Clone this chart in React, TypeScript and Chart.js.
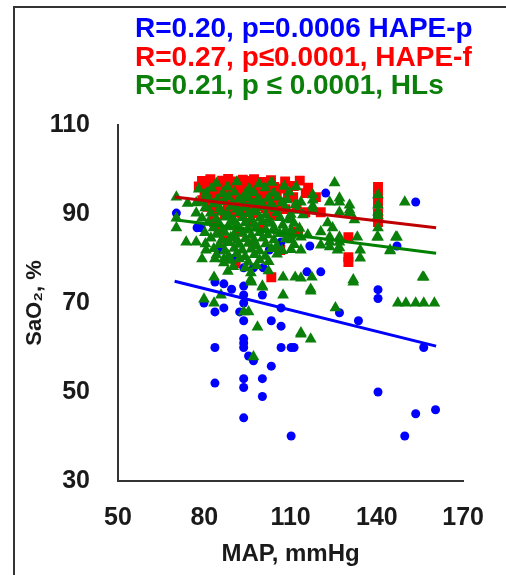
import React, { useEffect, useRef } from "react";
import { Chart, registerables } from "chart.js";

Chart.register(...registerables);

// ---- Data ----
const xTicks = [50, 80, 110, 140, 170];
const yTicks = [30, 50, 70, 90, 110];

const headerLines = [
  "R=0.20, p=0.0006 HAPE-p",
  "R=0.27, p\u22640.0001, HAPE-f",
  "R=0.21, p \u2264 0.0001, HLs",
];

// HAPE-p (blue circles): [MAP, SaO2]
const hapeP: number[][] = [
  [70.3, 90.2], [77.5, 86.9], [78.9, 86.9], [85.8, 81.9], [90.6, 80.1], [93.7, 77.9], [97.1, 77.9], [100.5, 77.9],
  [102.6, 81.9], [106.7, 83.7], [122.2, 94.7], [153.5, 92.7], [116.7, 82.8], [147, 82.8], [115.7, 77], [120.5, 77],
  [140.4, 73], [140.4, 71], [83.7, 74.7], [86.8, 74.3], [89.5, 73.1], [93.7, 73.8], [93.7, 71.8], [100.2, 71.8],
  [79.9, 70], [83.7, 68], [86.8, 68.9], [93.7, 70], [92.3, 68], [93.7, 66], [103.3, 66], [106.7, 64.8],
  [106.7, 68.9], [93.7, 62], [93.7, 61], [93.7, 60], [83.7, 60], [106.7, 60], [110.2, 60], [111.2, 60],
  [95.4, 58.1], [97.1, 57], [103.3, 55.8], [83.7, 52], [93.7, 53], [93.7, 51], [100.2, 53], [100.2, 49],
  [93.7, 44.2], [110.2, 40.1], [127, 67.8], [133.6, 66], [156.3, 60], [140.4, 50], [160.4, 46], [153.5, 45.1],
  [149.7, 40.1],
];

// HAPE-f (red squares)
const hapeF: number[][] = [
  [79.2, 97.4], [82.1, 97.8], [86.2, 97.5], [88.3, 97.9], [91.1, 97.3], [93.4, 97.7], [95.2, 97.4], [97.3, 97.8],
  [100.1, 97.2], [103.2, 97.6], [108.1, 97.3], [113.2, 97.5],
  [78.1, 96.2], [81.2, 95.9], [84.3, 96.3], [87.1, 95.8], [89.2, 96.1], [92.3, 95.7], [94.1, 96.4], [96.2, 95.9],
  [98.3, 96.2], [101.1, 95.8], [104.3, 96.1], [107.2, 95.7], [111.1, 96.3], [116.1, 95.9],
  [80.1, 94.6], [83.2, 94.3], [85.3, 94.8], [88.1, 94.4], [90.2, 94.7], [93.1, 94.2], [95.4, 94.6], [97.2, 94.3],
  [99.3, 94.7], [102.1, 94.4], [105.2, 94.2], [109.1, 94.6], [115.3, 94.7], [118.8, 93.8],
  [79.3, 93.1], [82.2, 92.8], [86.1, 93.3], [89.3, 92.9], [91.2, 93.2], [94.3, 92.7], [96.1, 93.1], [100.2, 92.8],
  [103.3, 93.2], [106.1, 92.6], [110.9, 93.8],
  [81.1, 91.6], [84.2, 91.3], [88.1, 91.7], [92.3, 91.2], [95.2, 91.5], [98.1, 91.8], [101.3, 91.3], [105.1, 91.6],
  [108.2, 91.1], [112.1, 91.4],
  [83.2, 90.1], [87.1, 89.8], [90.3, 90.3], [93.2, 89.9], [97.1, 90.2], [104.1, 89.7], [115.1, 90.4], [120.5, 90.4],
  [83.4, 88.2], [85, 86], [92, 86], [96, 88], [100, 87], [112.6, 86], [90.9, 79], [103.3, 75.8], [106.4, 81.9],
  [97, 83.2], [88, 84.1],
  [140.4, 96.1], [140.4, 94.3], [140.4, 92.5], [140.4, 90.2], [140.4, 88.2], [130.1, 84.8], [130.1, 80.3], [130.1, 79.2],
];

// HLs (green triangles)
const hls: number[][] = [
  [70.3, 93.8], [70.3, 89.1], [70.3, 86.9], [73.7, 83.7], [77.2, 83.7], [80.6, 81.9], [79.2, 79.9], [83.7, 79.9],
  [86.8, 79.9], [83.4, 75.8], [86.8, 79], [96.1, 75.2], [100.2, 73.6], [107.4, 75.8], [113.6, 75.6], [77.2, 90.2],
  [77.2, 92.5], [80.6, 94.7], [78.1, 95.6], [74.2, 92.4],
  [96.4, 74.7], [100.2, 73.8], [107.4, 71.8], [79.9, 70.9], [85.8, 71.8], [83.4, 70], [93.7, 68], [95.4, 68],
  [98.5, 64.6], [113.6, 63], [97.1, 57.9],
  [117, 72.7], [131.8, 74.7], [125.6, 68.9], [113.6, 63.3], [117, 61.9], [156.3, 75.8], [147.3, 70], [150.1, 70],
  [153.5, 70], [156.3, 70], [160, 70],
  [149.7, 92.7], [146.6, 84.8], [144.6, 81.7], [140.4, 94.3], [140.4, 92], [140.4, 90.4], [140.4, 89.6], [140.4, 86.9],
  [140.4, 84.8], [125.3, 97], [111.9, 96.1],
  [117.7, 94.3], [117.7, 93.1], [117.7, 91.8], [117.7, 90.9], [113.6, 92.7], [123.6, 92.7], [127, 93.6], [127, 92.7],
  [130.5, 92], [130.5, 90.9], [130.5, 90.2], [127, 90.4], [114.3, 89.8], [132.2, 88.7], [110.2, 88.7], [110.2, 86.4],
  [110.2, 84.2], [110.2, 82], [122.9, 88], [124.6, 86.9], [120.5, 86], [116, 85.3], [113.6, 84.8], [123.6, 84.8],
  [123.6, 83.7], [123.6, 82.6], [127, 84.8], [127, 83.7], [127, 82.4], [133.2, 84.8], [140.1, 84.8], [147, 84.8],
  [120.5, 83], [113.6, 81.9], [134.2, 81.9], [134.2, 80.1], [144.6, 81.9], [126.3, 81.9], [111.6, 75.8], [117.4, 75.8],
  [117, 73.1], [131.8, 75.2], [155.9, 75.8],
  [84.2, 96.9], [91.3, 97.2], [99.1, 96.8], [103.4, 97.1],
  [82.5, 95.8], [88.1, 96.1], [95.6, 95.7], [101.2, 95.9], [107.8, 96.2],
  [86.3, 94.6], [90.4, 94.9], [94.2, 94.4], [97.3, 94.8], [104.1, 94.7], [109.5, 94.9],
  [81.2, 93.6], [84.5, 93.2], [88.2, 93.9], [92.1, 93.4], [95.3, 93.7], [98.4, 93.1], [102.2, 93.5], [105.4, 93.8], [108.8, 93.2],
  [79.4, 92.7], [83.1, 92.3], [86.9, 92.8], [90.2, 92.1], [93.4, 92.6], [96.2, 92.3], [99.5, 92.8], [103.1, 92.2], [106.9, 92.5], [111.7, 92.1],
  [80.3, 91.4], [85.4, 91.2], [89.2, 91.7], [91.4, 91.1], [94.3, 91.5], [97.2, 91.0], [100.4, 91.6], [104.3, 91.2], [108.2, 91.4], [112.3, 90.8],
  [82.2, 90.2], [86.1, 90.4], [88.3, 89.9], [92.4, 90.3], [95.2, 90.1], [98.1, 90.5], [101.3, 89.8], [105.2, 90.3], [110.1, 89.9],
  [79.2, 89.1], [84.1, 88.9], [87.4, 89.3], [90.2, 88.7], [93.3, 89.2], [96.1, 88.8], [99.4, 89.1], [102.2, 88.6], [106.3, 89.2], [109.4, 88.9],
  [81.4, 88.1], [85.2, 87.8], [89.1, 88.2], [91.3, 87.6], [94.2, 88.0], [97.3, 87.7], [100.2, 88.3], [103.4, 87.9], [107.3, 87.5], [111.2, 87.9],
  [83.2, 86.9], [86.3, 86.6], [88.4, 87.1], [92.2, 86.7], [95.1, 86.4], [98.2, 86.9], [101.3, 86.5], [104.2, 86.8], [108.1, 86.2], [113.1, 86.8],
  [80.2, 85.8], [84.2, 85.4], [87.1, 85.9], [90.3, 85.3], [93.2, 85.7], [96.4, 85.2], [99.2, 85.8], [102.1, 85.3], [106.2, 85.6], [110.3, 85.2],
  [82.3, 84.6], [86.1, 84.2], [89.2, 84.7], [91.4, 84.1], [94.3, 84.5], [97.2, 84.1], [100.3, 84.6], [104.2, 84.2], [108.3, 84.4],
  [80.4, 83.3], [85.2, 83.1], [88.3, 83.6], [92.2, 83.2], [95.3, 83.4], [98.1, 82.9], [101.4, 83.3], [105.2, 82.8], [111.3, 83.1],
  [83.3, 82.2], [87.2, 81.8], [90.4, 82.3], [93.2, 81.9], [96.3, 82.1], [99.2, 81.7], [103.3, 82.2], [107.1, 81.8],
  [84.2, 80.8], [88.4, 80.6], [91.3, 81.1], [94.2, 80.4], [97.4, 80.9], [101.2, 80.5], [105.3, 81.0],
  [89.3, 79.6], [92.2, 79.9], [95.3, 79.2], [99.2, 79.7], [102.4, 79.3],
  [90.1, 78.2], [94.3, 77.9], [98.2, 78.4],
  [88.2, 77.1], [96.2, 76.8], [102.3, 77.2],
];

// Regression lines: endpoints [MAP, SaO2]
const hapePLine: number[][] = [[69.7, 74.9], [160.6, 60.3]];
const hapeFLine: number[][] = [[69.7, 93.8], [160.6, 86.9]];
const hlsLine: number[][] = [[69.7, 88.7], [160.6, 81.2]];

const BLUE = "#0000FF";
const RED = "#FF0000";
const GREEN = "#0A7F0A";
const FONT = "'Liberation Sans', Arial, sans-serif";

const toXY = (arr: number[][]) => arr.map(([x, y]) => ({ x, y }));

export default function App() {
  const canvasRef = useRef<HTMLCanvasElement | null>(null);

  useEffect(() => {
    if (!canvasRef.current) return;
    const chart = new Chart(canvasRef.current, {
      type: "scatter",
      data: {
        datasets: [
          { label: "HAPE-f fit", data: toXY(hapeFLine), showLine: true, borderColor: "#C00000", borderWidth: 3, pointRadius: 0 },
          { label: "HLs fit", data: toXY(hlsLine), showLine: true, borderColor: "#008000", borderWidth: 3, pointRadius: 0 },
          { label: "HAPE-p fit", data: toXY(hapePLine), showLine: true, borderColor: BLUE, borderWidth: 3, pointRadius: 0 },
          { label: "HLs", data: toXY(hls), pointStyle: "triangle", pointRadius: 6.8, backgroundColor: GREEN, borderColor: GREEN, borderWidth: 0 },
          { label: "HAPE-p", data: toXY(hapeP), pointStyle: "circle", pointRadius: 4.5, backgroundColor: BLUE, borderColor: BLUE, borderWidth: 0 },
          { label: "HAPE-f", data: toXY(hapeF), pointStyle: "rect", pointRadius: 7, backgroundColor: RED, borderColor: RED, borderWidth: 0 },
        ],
      },
      options: {
        responsive: false,
        animation: false,
        layout: { padding: { left: 0, top: 125, right: 39, bottom: 0 } },
        plugins: { legend: { display: false }, tooltip: { enabled: false } },
        scales: {
          x: {
            type: "linear",
            min: 50,
            max: 170,
            afterBuildTicks: (s: any) => { s.ticks = xTicks.map((v) => ({ value: v })); },
            afterFit: (s: any) => { s.height = 94; },
            grid: { display: false, drawTicks: false },
            border: { display: true, color: "#333", width: 2 },
            ticks: { padding: 22, color: "#1a1a1a", font: { family: FONT, size: 25, weight: "bold" } },
            title: { display: true, text: "MAP, mmHg", color: "#1a1a1a", font: { family: FONT, size: 24, weight: "bold" }, padding: { top: 0, bottom: 6 } },
          },
          y: {
            type: "linear",
            min: 30,
            max: 110,
            afterBuildTicks: (s: any) => { s.ticks = yTicks.map((v) => ({ value: v })); },
            afterFit: (s: any) => { s.width = 118; },
            grid: { display: false, drawTicks: false },
            border: { display: true, color: "#333", width: 2 },
            ticks: { padding: 28, color: "#1a1a1a", font: { family: FONT, size: 25, weight: "bold" } },
            title: { display: true, text: "SaO\u2082, %", color: "#1a1a1a", font: { family: FONT, size: 22, weight: "bold" }, padding: { top: 22, bottom: 0 } },
          },
        },
      },
    } as any);
    return () => chart.destroy();
  }, []);

  const headerColors = [BLUE, RED, GREEN];

  return (
    <div style={{ position: "absolute", left: 0, top: 0, width: 506, height: 575, overflow: "hidden", background: "#fff" }}>
      <div style={{ position: "absolute", left: 13, top: 6, width: 600, height: 700, borderLeft: "2px solid #333", borderTop: "2px solid #333" }} />
      <canvas ref={canvasRef} width={506} height={575} style={{ position: "absolute", left: 0, top: 0 }} />
      <div style={{ position: "absolute", left: 135, top: 14, fontFamily: FONT, fontWeight: "bold", fontSize: 28, lineHeight: "28.5px", whiteSpace: "nowrap" }}>
        {headerLines.map((t, i) => (
          <div key={i} style={{ color: headerColors[i] }}>{t}</div>
        ))}
      </div>
    </div>
  );
}
